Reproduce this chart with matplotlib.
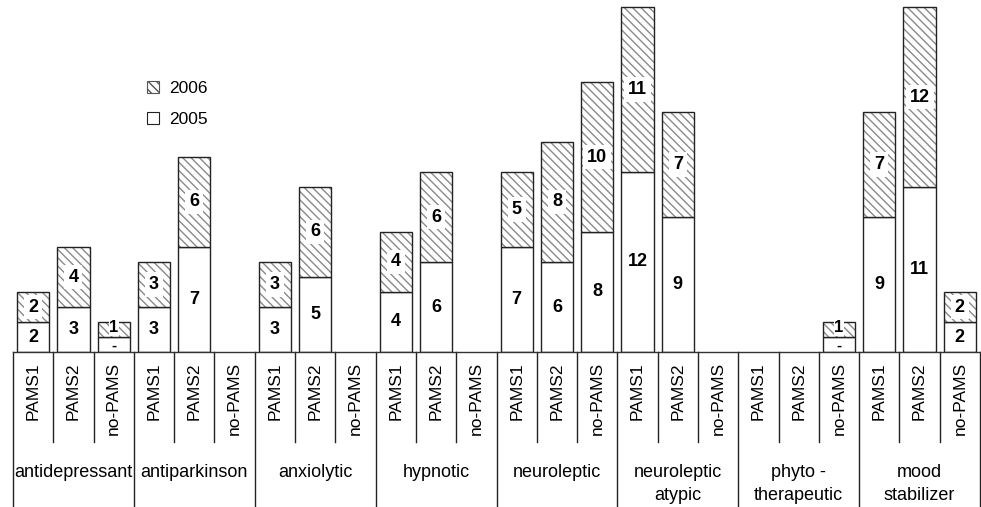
import matplotlib
matplotlib.use("Agg")
import matplotlib.pyplot as plt
from matplotlib.patches import Patch
from matplotlib.transforms import blended_transform_factory

plt.rcParams['font.family'] = ['Liberation Sans', 'DejaVu Sans']
plt.rcParams['hatch.linewidth'] = 1.0

groups = ['antidepressant', 'antiparkinson', 'anxiolytic', 'hypnotic',
          'neuroleptic', 'neuroleptic\natypic', 'phyto -\ntherapeutic',
          'mood\nstabilizer']
subs = ['PAMS1', 'PAMS2', 'no-PAMS']

v2005 = [2, 3, 1, 3, 7, 0, 3, 5, 0, 4, 6, 0, 7, 6, 8, 12, 9, 0, 0, 0, 1, 9, 11, 2]
v2006 = [2, 4, 1, 3, 6, 0, 3, 6, 0, 4, 6, 0, 5, 8, 10, 11, 7, 0, 0, 0, 1, 7, 12, 2]
lab2005 = ['2', '3', '-', '3', '7', '', '3', '5', '', '4', '6', '', '7', '6', '8',
           '12', '9', '', '', '', '-', '9', '11', '2']
lab2006 = ['2', '4', '1', '3', '6', '', '3', '6', '', '4', '6', '', '5', '8', '10',
           '11', '7', '', '', '', '1', '7', '12', '2']

W, H = 981, 507
fig = plt.figure(figsize=(W / 100, H / 100), dpi=100)
ax = fig.add_axes([13 / W, 155 / H, 967 / W, 351 / H])
ax.set_xlim(0, 24)
ax.set_ylim(0, 23.4)
for s in ['top', 'left', 'right']:
    ax.spines[s].set_visible(False)
ax.spines['bottom'].set_linewidth(1.0)
ax.spines['bottom'].set_color('#333333')
ax.set_xticks([])
ax.set_yticks([])

HATCH = '\\\\\\\\'
bw = 0.8
for i in range(24):
    x = i + 0.5
    a, b = v2005[i], v2006[i]
    if a + b == 0:
        continue
    small = (a + b) <= 2 and lab2005[i] == '-'
    ax.bar(x, a, width=bw, color='white', edgecolor='#222222', linewidth=1.0, zorder=2)
    ax.bar(x, b, bottom=a, width=bw, color='white', edgecolor='#8a8a8a',
           hatch=HATCH, linewidth=0, zorder=2)
    ax.bar(x, b, bottom=a, width=bw, color='none', edgecolor='#222222',
           linewidth=1.0, zorder=3)
    if lab2005[i]:
        ax.text(x, a / 2 - (0.1 if small else 0), lab2005[i], ha='center',
                va='center', fontsize=11 if small else 13,
                fontweight='bold', zorder=4)
    if lab2006[i]:
        ax.text(x, a + b / 2 + (0.1 if small else 0), lab2006[i], ha='center',
                va='center', fontsize=12 if small else 13,
                fontweight='bold', zorder=4,
                bbox=dict(facecolor='white', edgecolor='none',
                          boxstyle='square,pad=%s' % (0.02 if small else 0.22)))

tr = blended_transform_factory(ax.transData, ax.transAxes)
short_y = -90 / 351
long_y = -155 / 351
for k in range(25):
    yb = long_y if k % 3 == 0 else short_y
    ax.plot([k, k], [0, yb], transform=tr, color='#222222', lw=1.0,
            clip_on=False)

for i in range(24):
    ax.text(i + 0.5, -10 / 351, subs[i % 3], transform=tr, rotation=90,
            ha='center', va='top', fontsize=12.5)

for g, name in enumerate(groups):
    ax.text(g * 3 + 1.5, -112 / 351, name, transform=tr, ha='center', va='top',
            fontsize=13, linespacing=1.45)

handles = [Patch(facecolor='white', edgecolor='#555555', hatch=HATCH, linewidth=0.8),
           Patch(facecolor='white', edgecolor='#222222', linewidth=0.8)]
ax.legend(handles, ['2006', '2005'], loc='upper left',
          bbox_to_anchor=(118 / 967, 1 - 64 / 351), frameon=False,
          fontsize=12.5, handlelength=0.7, handleheight=0.7,
          handletextpad=0.6, labelspacing=0.95)

fig.savefig('out.png', dpi=100)
